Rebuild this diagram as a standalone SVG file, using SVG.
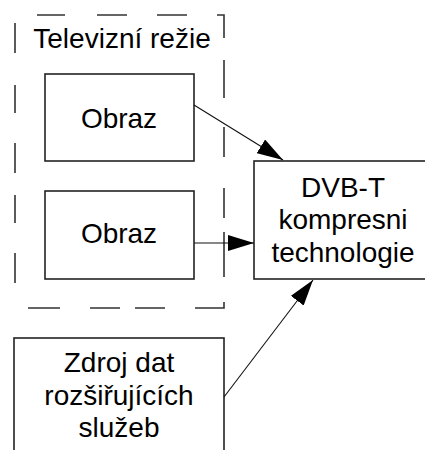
<svg xmlns="http://www.w3.org/2000/svg" width="425" height="450" viewBox="0 0 425 450">
<style>
.box{fill:#fff;stroke:#222;stroke-width:1.6}
.dash{fill:none;stroke:#333;stroke-width:1.6}
.edge{fill:none;stroke:#111;stroke-width:1.1}
text{font-family:"Liberation Sans",Arial,sans-serif;font-size:28px;fill:#000;text-anchor:middle}
</style>
<defs>
<marker id="ah" viewBox="0 0 26 16" refX="26" refY="8" markerWidth="26" markerHeight="16" markerUnits="userSpaceOnUse" orient="auto">
<path d="M0,0 L26,8 L0,16 z" fill="#000"/>
</marker>
</defs>
<rect width="425" height="450" fill="#fff"/>
<g id="group-televizni">
<path class="dash" d="M37,15 H65 M97,15 H127 M157,15 H187 M217,15 H224 V38 M224,60 V98 M224,127 V157 M224,188 V218 M224,232 V277 M224,302 V308 H195 M165,308 H135 M120,308 H90 M60,308 H28 M15,283 V253 M15,223 V195 M15,173 V143 M15,113 V85 M15,53 V23"/>
<text x="122" y="48">Televizní režie</text>
</g>
<g id="obraz1">
<rect class="box" x="45" y="74" width="149" height="87"/>
<text x="119" y="128">Obraz</text>
</g>
<g id="obraz2">
<rect class="box" x="45" y="191" width="149" height="88"/>
<text x="119" y="243">Obraz</text>
</g>
<g id="dvbt">
<rect class="box" x="254" y="161" width="180" height="118"/>
<text x="343" y="197">DVB-T</text>
<text x="343" y="229">kompresni</text>
<text x="343" y="262">technologie</text>
</g>
<g id="zdroj">
<rect class="box" x="14" y="338" width="210" height="130"/>
<text x="119" y="372">Zdroj dat</text>
<text x="119" y="405">rozšiřujících</text>
<text x="119" y="437">služeb</text>
</g>
<g id="connectors">
<line class="edge" x1="194" y1="105" x2="283" y2="160" marker-end="url(#ah)"/>
<line class="edge" x1="194" y1="243" x2="254" y2="243" marker-end="url(#ah)"/>
<line class="edge" x1="224" y1="397" x2="313" y2="280" marker-end="url(#ah)"/>
</g>
</svg>
